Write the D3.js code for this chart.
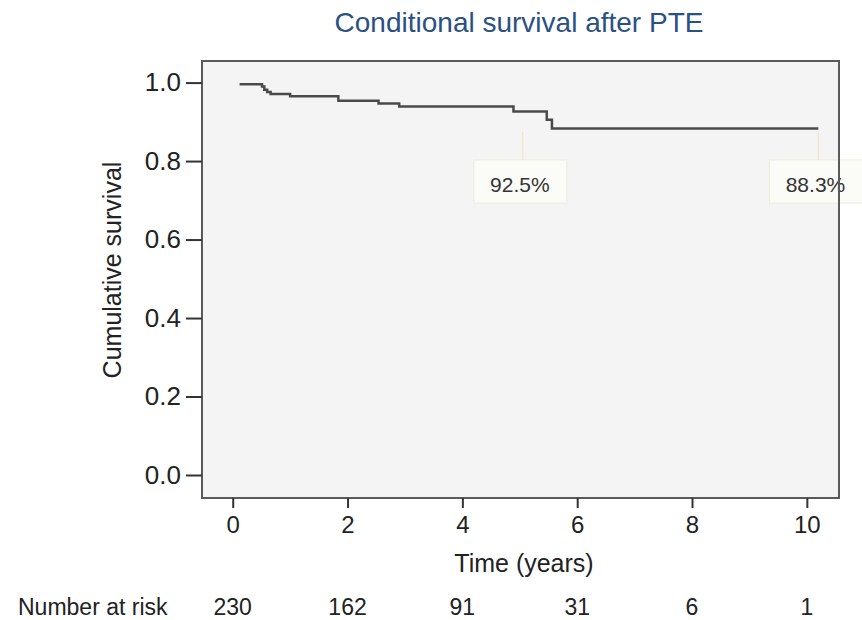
<!DOCTYPE html>
<html>
<head>
<meta charset="utf-8">
<script src="https://cdn.jsdelivr.net/npm/d3@7"></script>
<style>
  body { margin: 0; background: #fff; }
  svg text { font-family: "Liberation Sans", Arial, Helvetica, sans-serif; }
</style>
</head>
<body>
<svg id="chart" width="862" height="620"></svg>
<script>
// Kaplan-Meier steps: time (years) and survival
const times = [0.12, 0.51, 0.55, 0.60, 0.66, 1.00, 1.84, 2.54, 2.90, 4.89, 5.47, 5.56, 10.20];
const survival = [0.996, 0.99, 0.982, 0.976, 0.971, 0.965, 0.954, 0.947, 0.939, 0.926, 0.905, 0.883, 0.883];

const xTicks = [0, 2, 4, 6, 8, 10];
const yTicks = [0, 0.2, 0.4, 0.6, 0.8, 1.0];
const atRisk = [230, 162, 91, 31, 6, 1];

const labelTimes = [5.0, 10.15];
const labelTexts = ["92.5%", "88.3%"];

const svg = d3.select("#chart");

const x = d3.scaleLinear().domain([-0.535, 10.56]).range([202, 839]);
const y = d3.scaleLinear().domain([-0.0586, 1.055]).range([498, 61]);

// plot box
svg.append("rect")
  .attr("x", x.range()[0])
  .attr("y", y.range()[1])
  .attr("width", x.range()[1] - x.range()[0])
  .attr("height", y.range()[0] - y.range()[1])
  .attr("fill", "#f4f4f4")
  .attr("stroke", "#5a5a5a")
  .attr("stroke-width", 2);

// y axis
const gy = svg.append("g")
  .attr("transform", "translate(" + x.range()[0] + ",0)")
  .call(d3.axisLeft(y).tickValues(yTicks).tickFormat(d3.format(".1f")).tickSize(16).tickPadding(5));
gy.select(".domain").remove();
gy.selectAll(".tick line").attr("stroke", "#333").attr("stroke-width", 2);
gy.selectAll(".tick text").attr("font-size", 26).attr("fill", "#222");

// x axis
const gx = svg.append("g")
  .attr("transform", "translate(0," + y.range()[0] + ")")
  .call(d3.axisBottom(x).tickValues(xTicks).tickSize(10).tickPadding(8));
gx.select(".domain").remove();
gx.selectAll(".tick line").attr("stroke", "#333").attr("stroke-width", 2);
gx.selectAll(".tick text").attr("font-size", 24).attr("fill", "#222");

// annotation connectors and boxes
const labels = labelTimes.map((t, i) => ({ t, text: labelTexts[i] }));
svg.selectAll(".conn")
  .data(labels)
  .enter()
  .append("line")
  .attr("class", "conn")
  .attr("x1", d => x(d.t) + 3)
  .attr("x2", d => x(d.t) + 3)
  .attr("y1", 132)
  .attr("y2", 160)
  .attr("stroke", "#ece6c6")
  .attr("stroke-width", 1.2);

const lab = svg.selectAll(".lab")
  .data(labels)
  .enter()
  .append("g")
  .attr("class", "lab")
  .attr("transform", d => "translate(" + x(d.t) + ",0)");
lab.append("rect")
  .attr("x", -46)
  .attr("y", 160)
  .attr("width", 93)
  .attr("height", 43)
  .attr("fill", "#fbfbf8")
  .attr("stroke", "#eeecdc")
  .attr("stroke-width", 1);
lab.append("text")
  .attr("x", 0)
  .attr("y", 192)
  .attr("text-anchor", "middle")
  .attr("font-size", 21)
  .attr("fill", "#333")
  .text(d => d.text);

// survival curve
const pts = times.map((t, i) => [t, survival[i]]);
const line = d3.line()
  .x(d => x(d[0]))
  .y(d => y(d[1]))
  .curve(d3.curveStepAfter);
svg.append("path")
  .datum(pts)
  .attr("d", line)
  .attr("fill", "none")
  .attr("stroke", "#4a4a4a")
  .attr("stroke-width", 2.5);

// right border drawn over the label box like the original
svg.append("line")
  .attr("x1", x.range()[1]).attr("x2", x.range()[1])
  .attr("y1", y.range()[1]).attr("y2", y.range()[0])
  .attr("stroke", "#5a5a5a")
  .attr("stroke-width", 2);

// title
svg.append("text")
  .attr("x", 519)
  .attr("y", 32)
  .attr("text-anchor", "middle")
  .attr("font-size", 28)
  .attr("fill", "#2a5183")
  .text("Conditional survival after PTE");

// axis titles
svg.append("text")
  .attr("transform", "translate(121,270) rotate(-90)")
  .attr("text-anchor", "middle")
  .attr("font-size", 25)
  .attr("fill", "#222")
  .text("Cumulative survival");

svg.append("text")
  .attr("x", 524)
  .attr("y", 572)
  .attr("text-anchor", "middle")
  .attr("font-size", 25)
  .attr("fill", "#222")
  .text("Time (years)");

// number at risk
svg.append("text")
  .attr("x", 18)
  .attr("y", 615)
  .attr("font-size", 23)
  .attr("fill", "#222")
  .text("Number at risk");

svg.selectAll(".risk")
  .data(atRisk)
  .enter()
  .append("text")
  .attr("class", "risk")
  .attr("x", (d, i) => x(xTicks[i]))
  .attr("y", 615)
  .attr("text-anchor", "middle")
  .attr("font-size", 23)
  .attr("fill", "#222")
  .text(d => d);
</script>
</body>
</html>
